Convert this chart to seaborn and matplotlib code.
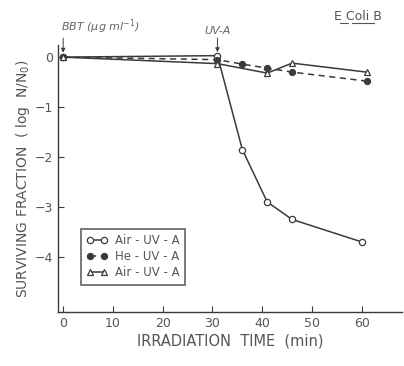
import numpy as np
import pandas as pd
import matplotlib
matplotlib.use("Agg")
import matplotlib.pyplot as plt
import seaborn as sns

# data
time_air = [0, 31, 36, 41, 46, 60]
surv_air = [0.0, 0.03, -1.85, -2.9, -3.25, -3.7]

time_he = [0, 31, 36, 41, 46, 61]
surv_he = [0.0, -0.05, -0.14, -0.22, -0.3, -0.48]

time_air2 = [0, 31, 41, 46, 61]
surv_air2 = [0.0, -0.13, -0.32, -0.12, -0.3]

legend_labels = ["Air - UV - A", "He - UV - A", "Air - UV - A"]
xticks = [0, 10, 20, 30, 40, 50, 60]
yticks = [0, -1, -2, -3, -4]

sns.set_style("ticks")
plt.rcParams['font.family'] = ['DejaVu Sans']
ink = "#3a3a3a"
txt = "#555555"

fig = plt.figure(figsize=(4.04, 3.66), dpi=100)
ax = fig.add_axes([0.144, 0.148, 0.85, 0.73])

df1 = pd.DataFrame({"t": time_air, "s": surv_air})
df2 = pd.DataFrame({"t": time_he, "s": surv_he})
df3 = pd.DataFrame({"t": time_air2, "s": surv_air2})

sns.lineplot(data=df1, x="t", y="s", ax=ax, color=ink, lw=1.1, marker="o",
             markersize=4.5, markerfacecolor="white", markeredgecolor=ink,
             markeredgewidth=0.9, label=legend_labels[0])
sns.lineplot(data=df2, x="t", y="s", ax=ax, color=ink, lw=1.1, marker="o",
             markersize=4.5, markerfacecolor=ink, markeredgecolor=ink,
             linestyle=(0, (4, 3)), label=legend_labels[1])
sns.lineplot(data=df3, x="t", y="s", ax=ax, color=ink, lw=1.1, marker="^",
             markersize=5, markerfacecolor="white", markeredgecolor=ink,
             markeredgewidth=0.9, label=legend_labels[2])

ax.set_xlim(-1, 68)
ax.set_ylim(-5.1, 0.25)
ax.set_xticks(xticks)
ax.set_yticks(yticks)
sns.despine(ax=ax)
for sp in ax.spines.values():
    sp.set_color(ink)
    sp.set_linewidth(1.0)
ax.tick_params(direction="in", length=4, colors=ink, labelsize=9, labelcolor=txt)

ax.set_xlabel("IRRADIATION  TIME  (min)", fontsize=10.5, color=txt, labelpad=3)
ax.set_ylabel("SURVIVING FRACTION  ( log  N/N$_0$)", fontsize=10, color=txt, labelpad=2)

leg = ax.legend(loc="lower left", bbox_to_anchor=(0.05, 0.08), fontsize=8.5,
                frameon=True, fancybox=False, edgecolor=ink, handlelength=1.8,
                numpoints=2, labelspacing=0.25, borderpad=0.45, handletextpad=0.6)
leg.get_frame().set_linewidth(1.2)
for t in leg.get_texts():
    t.set_color(txt)

# annotations
arrow = dict(arrowstyle="-|>", color=ink, lw=0.7, shrinkA=0, shrinkB=0, mutation_scale=6)
ax.annotate("", xy=(0, 0.09), xytext=(0, 0.38), annotation_clip=False, arrowprops=arrow)
ax.text(-0.5, 0.42, "BBT (μg ml$^{-1}$)", fontsize=8, style="italic", color="#666666",
        ha="left", va="bottom", clip_on=False)
ax.annotate("", xy=(31, 0.1), xytext=(31, 0.38), annotation_clip=False, arrowprops=arrow)
ax.text(31, 0.42, "UV-A", fontsize=8, style="italic", color="#666666",
        ha="center", va="bottom", clip_on=False)
fig.text(0.885, 0.945, "E Coli B", fontsize=9, color=txt, ha="center")
fig.add_artist(plt.Line2D([0.842, 0.862], [0.938, 0.938], color=txt, lw=0.8))
fig.add_artist(plt.Line2D([0.872, 0.925], [0.938, 0.938], color=txt, lw=0.8))

fig.savefig("out.png", dpi=100)
